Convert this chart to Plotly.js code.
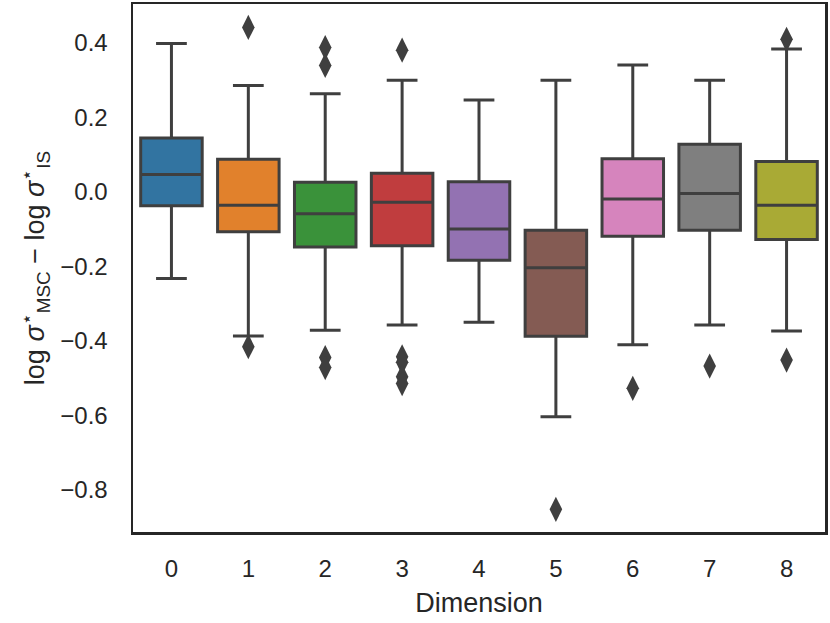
<!DOCTYPE html>
<html>
<head>
<meta charset="utf-8">
<script src="https://cdn.plot.ly/plotly-3.0.1.min.js"></script>
<style>html,body{margin:0;padding:0;background:#fff;}#chart{width:830px;height:623px;}</style>
</head>
<body>
<div id="chart"></div>
<script>
const categories = ['0','1','2','3','4','5','6','7','8'];
const colors = ['#3274a1','#e1812c','#3a923a','#c03d3e','#9372b2','#845b53','#d684bd','#7f7f7f','#a9aa35'];
const upperWhisker = [0.399, 0.286, 0.264, 0.300, 0.247, 0.300, 0.341, 0.300, 0.384];
const q3 =           [0.145, 0.088, 0.026, 0.050, 0.027, -0.103, 0.089, 0.128, 0.082];
const median =       [0.047, -0.036, -0.059, -0.028, -0.100, -0.204, -0.019, -0.004, -0.036];
const q1 =           [-0.037, -0.107, -0.148, -0.145, -0.184, -0.388, -0.119, -0.103, -0.128];
const lowerWhisker = [-0.233, -0.387, -0.372, -0.358, -0.350, -0.604, -0.411, -0.358, -0.374];
const outlierX = ['1','1','2','2','2','2','3','3','3','3','3','5','6','7','8','8'];
const outlierY = [0.442, -0.416, 0.388, 0.340, -0.445, -0.472, 0.381, -0.443, -0.458, -0.497, -0.515, -0.853, -0.528, -0.468, 0.410, -0.452];

const lineColor = '#3f3f3f';
const traces = categories.map((c, i) => ({
  type: 'box',
  x: [c],
  q1: [q1[i]],
  median: [median[i]],
  q3: [q3[i]],
  lowerfence: [lowerWhisker[i]],
  upperfence: [upperWhisker[i]],
  fillcolor: colors[i],
  line: {color: lineColor, width: 3},
  width: 0.8,
  whiskerwidth: 0.5,
  boxpoints: false,
  hoverinfo: 'skip',
  showlegend: false
}));
traces.push({
  type: 'scatter',
  mode: 'markers',
  x: outlierX,
  y: outlierY,
  marker: {symbol: 'diamond-tall', size: 18, color: lineColor, line: {width: 0}},
  hoverinfo: 'skip',
  showlegend: false
});

const font = {family: '"Liberation Sans", Arial, sans-serif', color: '#262626'};
const layout = {
  width: 830, height: 623, autosize: false,
  margin: {l: 133, r: 5, t: 4, b: 91},
  paper_bgcolor: '#fff', plot_bgcolor: '#fff',
  boxmode: 'overlay',
  font: Object.assign({size: 24}, font),
  xaxis: {
    type: 'category',
    categoryorder: 'array', categoryarray: categories,
    range: [-0.5, 8.5],
    showline: true, mirror: true, linecolor: '#262626', linewidth: 2.5,
    showgrid: false, zeroline: false,
    ticks: 'outside', ticklen: 14, tickcolor: 'rgba(0,0,0,0)',
    tickfont: Object.assign({size: 24}, font),
    title: {text: 'Dimension', font: Object.assign({size: 27}, font), standoff: 12}
  },
  yaxis: {
    range: [-0.914, 0.505],
    tickvals: [-0.8, -0.6, -0.4, -0.2, 0.0, 0.2, 0.4],
    tickformat: '.1f',
    showline: true, mirror: true, linecolor: '#262626', linewidth: 2.5,
    showgrid: false, zeroline: false,
    ticks: 'outside', ticklen: 18, tickcolor: 'rgba(0,0,0,0)',
    tickfont: Object.assign({size: 24}, font),
    title: {text: 'log <i>σ</i><sup>⋆</sup><sub>MSC</sub> − log <i>σ</i><sup>⋆</sup><sub>IS</sub>', font: Object.assign({size: 27}, font), standoff: 8}
  }
};
Plotly.newPlot('chart', traces, layout, {displayModeBar: false, staticPlot: true});
</script>
</body>
</html>
